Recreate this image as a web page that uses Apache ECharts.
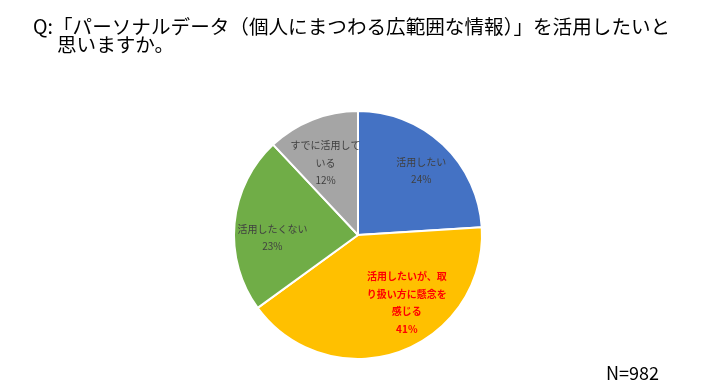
<!DOCTYPE html>
<html><head><meta charset="utf-8">
<script src="https://cdn.jsdelivr.net/npm/echarts@6/dist/echarts.min.js"></script>
<style>html,body{margin:0;padding:0;background:#fff}#c{width:720px;height:390px}</style>
</head><body><div id="c"></div>
<script>
const categories = ['活用したい', '活用したいが、取\nり扱い方に懸念を\n感じる', '活用したくない', 'すでに活用して\nいる'];
const values = [24, 41, 23, 12];
const colors = ['#4472C4', '#FFC000', '#70AD47', '#A5A5A5'];
const labelColors = ['#404040', '#FF0000', '#404040', '#404040'];
const titleLine1 = 'Q:「パーソナルデータ（個人にまつわる広範囲な情報）」を活用したいと';
const titleLine2 = '思いますか。';
const note = 'N=982';

const chart = echarts.init(document.getElementById('c'));
const font = '"Noto Sans CJK JP", "Noto Sans", sans-serif';
const center = [358, 235];
const R = 124;
const labelShift = [[3, 0], [19, -15], [2, 11], [0, 10]];
chart.setOption({
  animation: false,
  graphic: [
    {type: 'text', left: 33, top: 17, style: {text: titleLine1, font: '19.6px ' + font, fill: '#000'}},
    {type: 'text', left: 57, top: 35, style: {text: titleLine2, font: '19.6px ' + font, fill: '#000'}},
    {type: 'text', left: 606, top: 364, style: {text: note, font: '18px ' + font, fill: '#000'}}
  ],
  series: [
    {
      type: 'pie', center: center, radius: [0, R], startAngle: 90, clockwise: true,
      silent: true,
      itemStyle: {borderColor: '#fff', borderWidth: 2},
      label: {show: false}, labelLine: {show: false},
      data: values.map((v, i) => ({name: categories[i], value: v, itemStyle: {color: colors[i]}}))
    },
    {
      type: 'pie', center: center, radius: [46, R], startAngle: 90, clockwise: true,
      silent: true,
      itemStyle: {color: 'transparent', borderWidth: 0},
      labelLine: {show: false},
      labelLayout: p => ({dx: labelShift[p.dataIndex][0], dy: labelShift[p.dataIndex][1]}),
      label: {
        position: 'inside', fontFamily: font, fontSize: 10, lineHeight: 17.5, align: 'center',
        formatter: p => p.name + '\n' + p.value + '%'
      },
      data: values.map((v, i) => ({
        name: categories[i], value: v,
        label: {color: labelColors[i], fontWeight: i === 1 ? 'bold' : 'normal'}
      }))
    }
  ]
});
</script>
</body></html>
